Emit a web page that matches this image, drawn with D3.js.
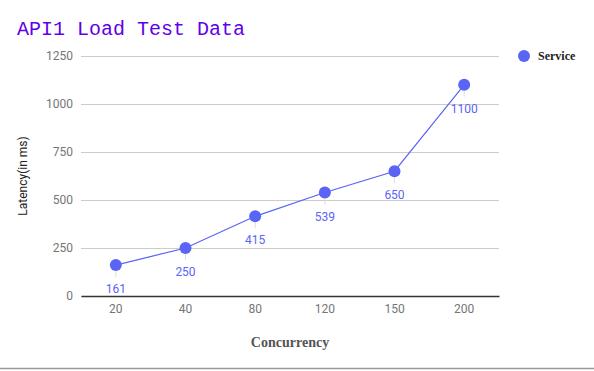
<!DOCTYPE html>
<html>
<head>
<meta charset="utf-8">
<script src="https://cdnjs.cloudflare.com/ajax/libs/d3/7.8.5/d3.min.js"></script>
<style>
  body { margin: 0; background: #fff; }
  svg { display: block; }
</style>
</head>
<body>
<svg id="chart" width="594" height="371"></svg>
<script>
const categories = ['20', '40', '80', '120', '150', '200'];
const latency = [161, 250, 415, 539, 650, 1100];
const yTicks = [0, 250, 500, 750, 1000, 1250];
const seriesName = 'Service';

const width = 594, height = 371;
const margin = { top: 56, right: 95, bottom: 75, left: 81 };
const plotW = width - margin.left - margin.right,
      plotH = height - margin.top - margin.bottom;
const dotColor = '#5a64f5';

const svg = d3.select('#chart');

// title
svg.append('text')
  .attr('x', 17).attr('y', 35)
  .style('font-family', '"Liberation Mono", "DejaVu Sans Mono", monospace')
  .style('font-size', '20px')
  .style('fill', '#6200ea')
  .text('API1 Load Test Data');

const chart = svg.append('g')
  .attr('transform', 'translate(' + margin.left + ',' + margin.top + ')');

const x = d3.scaleBand().domain(categories).range([0, plotW]);
const y = d3.scaleLinear().domain([0, 1250]).range([plotH, 0]);

// gridlines + y labels
const yAxis = chart.append('g')
  .call(d3.axisLeft(y).tickValues(yTicks).tickFormat(d3.format('d')).tickSize(-plotW).tickPadding(8));
yAxis.select('.domain').remove();
yAxis.selectAll('line').attr('stroke', '#cccccc');
yAxis.selectAll('text')
  .style('font-family', 'Roboto, sans-serif')
  .style('font-size', '12px')
  .style('fill', '#757575');

// x axis
const xAxis = chart.append('g')
  .attr('transform', 'translate(0,' + plotH + ')')
  .call(d3.axisBottom(x).tickSize(0).tickPadding(8));
xAxis.select('.domain').attr('stroke', '#333').attr('stroke-width', 1.5);
xAxis.selectAll('text')
  .style('font-family', 'Roboto, sans-serif')
  .style('font-size', '12px')
  .style('fill', '#757575');

// y axis title
svg.append('text')
  .attr('transform', 'translate(27,' + (margin.top + plotH / 2) + ') rotate(-90)')
  .attr('text-anchor', 'middle')
  .style('font-family', 'Roboto, sans-serif')
  .style('font-size', '12px')
  .style('fill', '#222')
  .text('Latency(in ms)');

// x axis title
svg.append('text')
  .attr('x', margin.left + plotW / 2).attr('y', 347)
  .attr('text-anchor', 'middle')
  .style('font-family', '"Liberation Serif", "DejaVu Serif", serif')
  .style('font-weight', 'bold')
  .style('font-size', '14px')
  .style('fill', '#555')
  .text('Concurrency');

const data = categories.map((c, i) => ({ cat: c, v: latency[i] }));
const cx = d => x(d.cat) + x.bandwidth() / 2;

// annotation stems
chart.selectAll('.stem')
  .data(data).enter().append('line')
  .attr('x1', cx).attr('x2', cx)
  .attr('y1', d => y(d.v) + 6).attr('y2', d => y(d.v) + 12)
  .attr('stroke', '#dddddd');

chart.append('path')
  .datum(data)
  .attr('fill', 'none')
  .attr('stroke', dotColor)
  .attr('stroke-width', 1.2)
  .attr('d', d3.line().x(cx).y(d => y(d.v)));

chart.selectAll('.dot')
  .data(data).enter().append('circle')
  .attr('cx', cx).attr('cy', d => y(d.v))
  .attr('r', 6)
  .attr('fill', dotColor);

chart.selectAll('.lbl')
  .data(data).enter().append('text')
  .attr('x', cx).attr('y', d => y(d.v) + 28)
  .attr('text-anchor', 'middle')
  .style('font-family', 'Roboto, sans-serif')
  .style('font-size', '12px')
  .style('fill', dotColor)
  .text(d => d.v);

// legend
svg.append('circle')
  .attr('cx', 524).attr('cy', 56).attr('r', 6)
  .attr('fill', dotColor);
svg.append('text')
  .attr('x', 538).attr('y', 60)
  .style('font-family', '"Liberation Serif", "DejaVu Serif", serif')
  .style('font-weight', 'bold')
  .style('font-size', '12px')
  .style('fill', '#222')
  .text(seriesName);

// page rule at bottom
svg.append('line')
  .attr('x1', 0).attr('x2', width)
  .attr('y1', 368.5).attr('y2', 368.5)
  .attr('stroke', '#999').attr('stroke-width', 1.5);
</script>
</body>
</html>
